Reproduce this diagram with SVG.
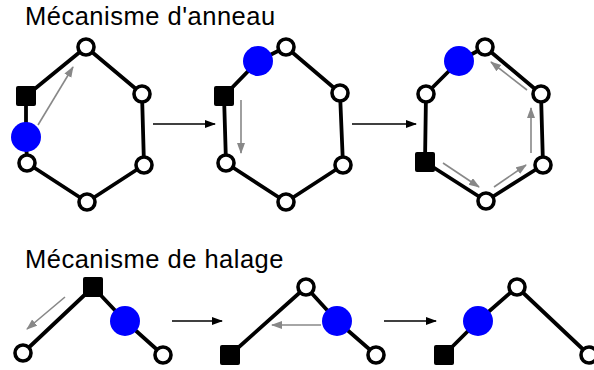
<svg xmlns="http://www.w3.org/2000/svg" width="594" height="370" viewBox="0 0 594 370">
<defs>
<style>
.bond{stroke:#000;stroke-width:3.8;fill:none;stroke-linecap:round;stroke-linejoin:round}
.atom{fill:#fff;stroke:#000;stroke-width:3.6}
.blue{fill:#0000ff}
.sq{fill:#000}
.step{stroke:#000;stroke-width:1.6;fill:none}
.move{stroke:#888;stroke-width:1.6;fill:none}
.title{font-family:"Liberation Sans",Arial,sans-serif;font-size:25.5px;letter-spacing:0.5px;fill:#000}
</style>
<marker id="ab" markerUnits="userSpaceOnUse" markerWidth="12" markerHeight="10" refX="10" refY="4" orient="auto"><path d="M0,0 L11,4 L0,8 Z" fill="#000"/></marker>
<marker id="ag" markerUnits="userSpaceOnUse" markerWidth="12" markerHeight="10" refX="10" refY="4" orient="auto"><path d="M0,0 L11,4 L0,8 Z" fill="#888"/></marker>
</defs>
<rect width="594" height="370" fill="#fff"/>
<text class="title" x="25" y="25">Mécanisme d'anneau</text>
<text class="title" x="25" y="268">Mécanisme de halage</text>
<g id="connectors">
<!-- hexagon 1 -->
<path class="bond" d="M26,96 L86,47 L142,94 L144,165 L87,202 L27,163 L26,137 Z"/>
<!-- hexagon 2 -->
<path class="bond" d="M224,96 L258,61 L286,47 L340,93 L343,165 L286,202 L226,163 Z"/>
<!-- hexagon 3 -->
<path class="bond" d="M426,94 L459,61 L485,47 L541,94 L543,165 L486,201 L425,162 Z"/>
<!-- bottom -->
<path class="bond" d="M23,353 L93,287 L125,321 L163,355"/>
<path class="bond" d="M230,355 L306,287 L337,321 L376,355"/>
<path class="bond" d="M444,355 L478,321 L517,287 L589,355"/>
<!-- step arrows -->
<line class="step" x1="153" y1="124" x2="215" y2="124" marker-end="url(#ab)"/>
<line class="step" x1="352" y1="124" x2="416" y2="124" marker-end="url(#ab)"/>
<line class="step" x1="172" y1="321" x2="222" y2="321" marker-end="url(#ab)"/>
<line class="step" x1="384" y1="321" x2="436" y2="321" marker-end="url(#ab)"/>
<!-- motion arrows -->
<line class="move" x1="38" y1="125" x2="73" y2="67" marker-end="url(#ag)"/>
<line class="move" x1="241" y1="100" x2="241" y2="153" marker-end="url(#ag)"/>
<line class="move" x1="443" y1="163" x2="479" y2="187" marker-end="url(#ag)"/>
<line class="move" x1="494" y1="187" x2="526" y2="165" marker-end="url(#ag)"/>
<line class="move" x1="531" y1="153" x2="531" y2="108" marker-end="url(#ag)"/>
<line class="move" x1="527" y1="90" x2="491" y2="62" marker-end="url(#ag)"/>
<line class="move" x1="65" y1="297" x2="27" y2="329" marker-end="url(#ag)"/>
<line class="move" x1="321" y1="325" x2="272" y2="325" marker-end="url(#ag)"/>
</g>
<!-- hexagon 1 nodes -->
<g id="h1-sq"><rect class="sq" x="16" y="86" width="20" height="20" rx="2"/></g>
<g id="h1-t"><circle class="atom" cx="86" cy="47" r="8"/></g>
<g id="h1-ur"><circle class="atom" cx="142" cy="94" r="8"/></g>
<g id="h1-lr"><circle class="atom" cx="144" cy="165" r="8"/></g>
<g id="h1-b"><circle class="atom" cx="87" cy="202" r="8"/></g>
<g id="h1-ll"><circle class="atom" cx="27" cy="163" r="8"/></g>
<g id="h1-blue"><circle class="blue" cx="26" cy="137" r="15"/></g>
<!-- hexagon 2 nodes -->
<g id="h2-sq"><rect class="sq" x="214" y="86" width="20" height="20" rx="2"/></g>
<g id="h2-blue"><circle class="blue" cx="258" cy="61" r="15"/></g>
<g id="h2-t"><circle class="atom" cx="286" cy="47" r="8"/></g>
<g id="h2-ur"><circle class="atom" cx="340" cy="93" r="8"/></g>
<g id="h2-lr"><circle class="atom" cx="343" cy="165" r="8"/></g>
<g id="h2-b"><circle class="atom" cx="286" cy="202" r="8"/></g>
<g id="h2-ll"><circle class="atom" cx="226" cy="163" r="8"/></g>
<!-- hexagon 3 nodes -->
<g id="h3-ul"><circle class="atom" cx="426" cy="94" r="8"/></g>
<g id="h3-blue"><circle class="blue" cx="459" cy="61" r="15"/></g>
<g id="h3-t"><circle class="atom" cx="485" cy="47" r="8"/></g>
<g id="h3-ur"><circle class="atom" cx="541" cy="94" r="8"/></g>
<g id="h3-lr"><circle class="atom" cx="543" cy="165" r="8"/></g>
<g id="h3-b"><circle class="atom" cx="486" cy="201" r="8"/></g>
<g id="h3-sq"><rect class="sq" x="415" y="152" width="20" height="20" rx="2"/></g>
<!-- bottom panel 1 -->
<g id="p1-l"><circle class="atom" cx="23" cy="353" r="8"/></g>
<g id="p1-sq"><rect class="sq" x="83" y="277" width="20" height="20" rx="2"/></g>
<g id="p1-blue"><circle class="blue" cx="125" cy="321" r="15"/></g>
<g id="p1-r"><circle class="atom" cx="163" cy="355" r="8"/></g>
<!-- bottom panel 2 -->
<g id="p2-sq"><rect class="sq" x="220" y="345" width="20" height="20" rx="2"/></g>
<g id="p2-u"><circle class="atom" cx="306" cy="287" r="8"/></g>
<g id="p2-blue"><circle class="blue" cx="337" cy="321" r="15"/></g>
<g id="p2-r"><circle class="atom" cx="376" cy="355" r="8"/></g>
<!-- bottom panel 3 -->
<g id="p3-sq"><rect class="sq" x="434" y="345" width="20" height="20" rx="2"/></g>
<g id="p3-blue"><circle class="blue" cx="478" cy="321" r="15"/></g>
<g id="p3-t"><circle class="atom" cx="517" cy="287" r="8"/></g>
<g id="p3-r"><circle class="atom" cx="589" cy="355" r="8"/></g>
</svg>
